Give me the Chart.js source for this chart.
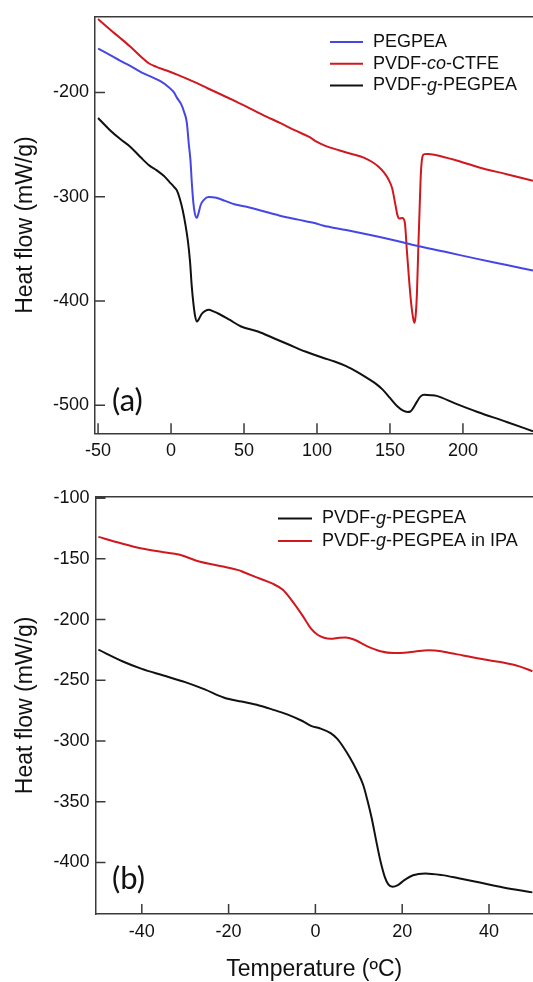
<!DOCTYPE html>
<html>
<head>
<meta charset="utf-8">
<script src="https://cdn.jsdelivr.net/npm/chart.js@4.4.1/dist/chart.umd.min.js"></script>
<style>
html,body{margin:0;padding:0;background:#fff;overflow:hidden;}
#wrap{position:relative;width:533px;height:982px;}
canvas{position:absolute;left:0;}
</style>
</head>
<body>
<div id="wrap">
<canvas id="ca" width="533" height="480" style="top:0;width:533px;height:480px"></canvas>
<canvas id="cb" width="533" height="502" style="top:480px;width:533px;height:502px"></canvas>
</div>
<script>
// ---------- Panel (a) data ----------
const aSeriesLabels = ['PEGPEA', 'PVDF-*co*-CTFE', 'PVDF-*g*-PEGPEA'];
const aXTicks = [-50, 0, 50, 100, 150, 200];
const aYTicks = [-200, -300, -400, -500];

const aPegpeaT  = [-50, -42, -35, -28, -20, -12, -7, -2, 2, 4, 7, 9, 10.8, 12.2, 13.3, 14.3, 15.3, 16.3, 17.6, 18.8, 20.3, 22.5, 25.8, 31, 37, 44, 51, 62, 74, 87, 99, 104, 120, 139, 155, 170, 190, 209, 230, 248];
const aPegpeaHF = [-158, -164, -169.5, -174.5, -181, -186, -189.5, -194.5, -200, -205, -211.5, -219, -229, -250, -265, -288, -306, -316, -320.3, -316, -308, -303, -300.3, -301, -304, -307.5, -309.5, -313.5, -318, -322, -325.5, -327.6, -332, -337.5, -342.5, -347.6, -353.6, -359.4, -365.5, -370.8];

const aCtfeT  = [-50, -42, -35, -28, -20, -15, -10, -3, 5, 15, 25, 35, 45, 55, 65, 75, 85, 95, 100, 105, 115, 125, 132, 137, 142, 146, 149, 151.5, 153.5, 155.2, 156.5, 158.5, 160.2, 161.5, 163, 164.5, 165.8, 166.7, 167.6, 168.5, 169.4, 170.3, 171.2, 172.2, 173.5, 176, 181, 195, 210, 230, 248];
const aCtfeHF = [-129.7, -139.5, -147.6, -156, -166.5, -172.3, -175.5, -179, -183.5, -189.5, -196, -202.5, -209, -216, -223, -229.5, -236.5, -243, -247.5, -250.8, -255.5, -259.5, -262.5, -266, -271, -277, -283.5, -292, -306, -318, -321, -320.5, -325, -350, -378, -402, -416, -421, -414, -392, -350, -312, -277, -262, -259.2, -259, -260, -265, -271.5, -278.5, -284.8];

const aGraftT  = [-50, -42, -35, -28, -21, -15, -10, -5, -1, 2, 4, 6, 8, 10, 11.5, 13, 14.2, 15.3, 16.5, 17.8, 19.2, 21, 23.5, 26, 29, 33, 40, 48, 60, 70, 81, 92, 104, 112, 120, 128, 135, 140, 145, 150, 155, 159, 162, 164, 166, 168.5, 171, 173.5, 178, 182, 195, 210, 230, 248];
const aGraftHF = [-224.5, -236, -244.5, -252, -262, -270, -274.5, -280, -286, -290.5, -294, -302, -313, -328, -342, -362, -386, -402, -414.5, -419.8, -417, -412.5, -409.5, -408.5, -410, -412.5, -418, -424.5, -429.5, -435.5, -442, -448.5, -454.5, -458, -462.5, -468.5, -474.5, -479, -485, -493, -501, -505.2, -506.4, -506, -502.5, -496.5, -491.5, -490, -490.3, -491, -498.5, -506.5, -516, -525];

// ---------- Panel (b) data ----------
const bSeriesLabels = ['PVDF-*g*-PEGPEA', 'PVDF-*g*-PEGPEA in IPA'];
const bXTicks = [-40, -20, 0, 20, 40];
const bYTicks = [-100, -150, -200, -250, -300, -350, -400];

const bGraftT  = [-50, -44.5, -40, -35, -30, -25.5, -21, -17, -13, -10, -6.5, -3, -1, 1, 3.5, 5, 6.5, 8, 9.5, 11, 12, 13, 14, 15, 16, 16.8, 17.8, 19, 20.5, 22.5, 25.3, 29.2, 33, 37, 43.3, 50];
const bGraftHF = [-224.8, -234.3, -240.6, -246, -251.5, -257.5, -264.3, -267.5, -270.7, -273.9, -278, -283.5, -287.5, -289.5, -293.5, -298, -305.3, -314, -324, -336, -349, -364, -382, -399, -412, -418, -420, -418.6, -414.5, -410.5, -409, -410.4, -413, -415.9, -420.5, -424.6];

const bIpaT  = [-50, -45, -40, -35, -31.5, -27, -21, -17.5, -16.5, -13, -10, -7.5, -5.5, -3, -1, 0.5, 2, 3.5, 5.5, 7, 9, 12, 15, 18, 20.5, 23, 26, 29, 31, 34, 37, 40, 43.5, 47, 50];
const bIpaHF = [-131.9, -137, -141.5, -144.5, -146.4, -151.9, -156.5, -159.5, -161, -166, -170.2, -175.5, -184, -196.5, -207.5, -212.5, -215, -215.8, -215, -214.7, -216.6, -222, -226, -227.5, -227.3, -226.3, -225.3, -226, -227.5, -229.5, -231.6, -233.5, -235.5, -238.5, -242.5];

// ---------- styling ----------
const FONT = '"Liberation Sans", Arial, Helvetica, sans-serif';
const AXIS = '#3a3a3a';
const RED = '#d0181f';
const BLUE = '#4646e6';
const BLACK = '#111111';

Chart.defaults.font.family = FONT;
Chart.defaults.color = '#111';

function pts(T, HF) { return T.map((t, i) => ({x: t, y: HF[i]})); }

const frameTicks = {
  id: 'frameTicks',
  afterDatasetsDraw(chart) {
    const {ctx, chartArea: a, scales: {x, y}} = chart;
    ctx.save();
    ctx.strokeStyle = AXIS; ctx.lineWidth = 1.5;
    ctx.beginPath();
    ctx.moveTo(a.left, a.top); ctx.lineTo(a.right, a.top);
    x.ticks.forEach(t => { const p = x.getPixelForValue(t.value); ctx.moveTo(p, a.bottom); ctx.lineTo(p, a.bottom - 10); });
    y.ticks.forEach(t => { const p = y.getPixelForValue(t.value); ctx.moveTo(a.left, p); ctx.lineTo(a.left + 10, p); });
    ctx.stroke();
    ctx.restore();
  }
};

const lineLegend = {
  id: 'lineLegend',
  afterDraw(chart, args, o) {
    const ctx = chart.ctx, a = chart.chartArea;
    ctx.save();
    chart.data.datasets.forEach((ds, i) => {
      const y = a.top + o.y + i * o.rowH;
      const x0 = a.left + o.x;
      ctx.strokeStyle = ds.borderColor; ctx.lineWidth = 2;
      ctx.beginPath(); ctx.moveTo(x0, y); ctx.lineTo(x0 + o.lineLen, y); ctx.stroke();
      let tx = x0 + o.lineLen + o.gap;
      ctx.fillStyle = '#111'; ctx.textBaseline = 'middle'; ctx.textAlign = 'left';
      ds.label.split('*').forEach((seg, k) => {
        ctx.font = (k % 2 ? 'italic ' : '') + '18px ' + FONT;
        ctx.fillText(seg, tx, y);
        tx += ctx.measureText(seg).width;
      });
    });
    // panel tag
    ctx.font = o.tagSize + 'px Lato, "Open Sans", sans-serif';
    ctx.fillStyle = '#111'; ctx.textBaseline = 'alphabetic'; ctx.textAlign = 'left';
    ctx.fillText(o.tag, a.left + o.tagX, a.top + o.tagY);
    ctx.restore();
  }
};

function makeChart(canvas, datasets, cfg) {
  return new Chart(canvas, {
    type: 'line',
    data: {datasets},
    plugins: [frameTicks, lineLegend],
    options: {
      responsive: false,
      animation: false,
      layout: {padding: {top: cfg.padTop, right: 0, left: 0, bottom: 0}},
      elements: {point: {radius: 0}, line: {borderWidth: 2, cubicInterpolationMode: 'monotone'}},
      plugins: {legend: {display: false}, tooltip: {enabled: false}, lineLegend: cfg.legend},
      scales: {
        x: {
          type: 'linear', min: cfg.xMin, max: cfg.xMax,
          afterBuildTicks: s => { s.ticks = cfg.xTicks.map(v => ({value: v})); },
          afterFit: s => { s.height = cfg.xHeight; },
          grid: {display: false, drawTicks: false},
          border: {display: true, color: AXIS, width: 1.5},
          ticks: {font: {size: 18}, padding: 7, color: '#111', maxRotation: 0},
          title: cfg.xTitle ? {display: true, text: cfg.xTitle, font: {size: 23, lineHeight: 1}, padding: {top: 0, bottom: 0.5}, color: '#111'} : {display: false}
        },
        y: {
          type: 'linear', min: cfg.yMin, max: cfg.yMax,
          afterBuildTicks: s => { s.ticks = cfg.yTicks.map(v => ({value: v})); },
          afterFit: s => { s.width = cfg.yWidth; },
          grid: {display: false, drawTicks: false},
          border: {display: true, color: AXIS, width: 1.5},
          ticks: {font: {size: 18}, padding: 6, color: '#111'},
          title: {display: true, text: 'Heat flow (mW/g)', font: {size: 23, lineHeight: 1}, padding: {top: 13.8, bottom: 0}, color: '#111'}
        }
      }
    }
  });
}

makeChart(document.getElementById('ca'), [
  {label: aSeriesLabels[0], data: pts(aPegpeaT, aPegpeaHF), borderColor: BLUE},
  {label: aSeriesLabels[1], data: pts(aCtfeT, aCtfeHF), borderColor: RED},
  {label: aSeriesLabels[2], data: pts(aGraftT, aGraftHF), borderColor: BLACK}
], {
  padTop: 13, xMin: -52.1, xMax: 248, yMin: -526.9, yMax: -127.5,
  xTicks: aXTicks, yTicks: aYTicks, xHeight: 46.7, yWidth: 95,
  legend: {x: 235, y: 25.3, rowH: 21.7, lineLen: 33, gap: 10, tag: '(a)', tagSize: 31, tagX: 17, tagY: 394}
});

makeChart(document.getElementById('cb'), [
  {label: bSeriesLabels[0], data: pts(bGraftT, bGraftHF), borderColor: BLACK},
  {label: bSeriesLabels[1], data: pts(bIpaT, bIpaHF), borderColor: RED}
], {
  padTop: 15, xMin: -50.67, xMax: 50.14, yMin: -442.4, yMax: -98.9,
  xTicks: bXTicks, yTicks: bYTicks, xHeight: 68, yWidth: 95.5, xTitle: 'Temperature (ºC)',
  legend: {x: 182.5, y: 21.7, rowH: 22.6, lineLen: 34, gap: 10, tag: '(b)', tagSize: 31, tagX: 16.5, tagY: 392}
});
</script>
</body>
</html>
